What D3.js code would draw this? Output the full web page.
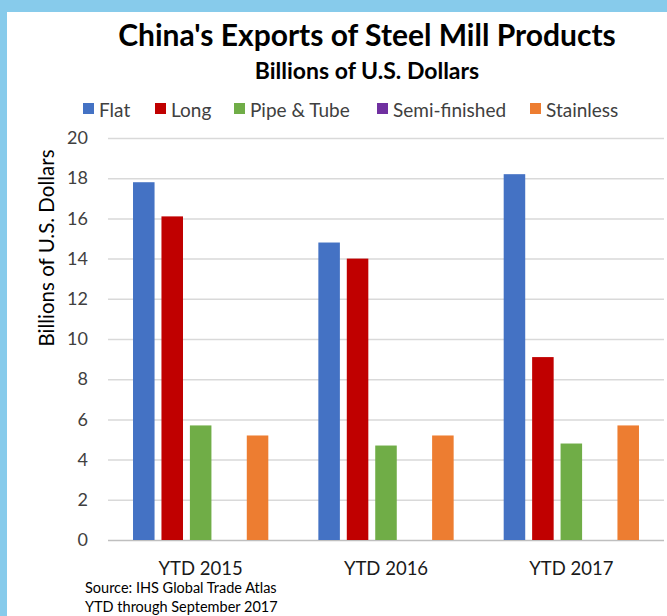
<!DOCTYPE html>
<html>
<head>
<meta charset="utf-8">
<script src="https://cdn.jsdelivr.net/npm/d3@7"></script>
<style>
  html, body { margin: 0; padding: 0; background: #ffffff; }
  svg { display: block; }
  text { font-family: Lato, "Open Sans", sans-serif; }
</style>
</head>
<body>
<script>
const categories = ["YTD 2015", "YTD 2016", "YTD 2017"];
const seriesNames = ["Flat", "Long", "Pipe & Tube", "Semi-finished", "Stainless"];
const flatValues = [17.8, 14.8, 18.2];
const longValues = [16.1, 14.0, 9.1];
const pipeValues = [5.7, 4.7, 4.8];
const semiValues = [0, 0, 0];
const stainlessValues = [5.2, 5.2, 5.7];
const seriesColors = ["#4472C4", "#C00000", "#70AD47", "#7030A0", "#ED7D31"];
const yTicks = [0, 2, 4, 6, 8, 10, 12, 14, 16, 18, 20];

const seriesValues = [flatValues, longValues, pipeValues, semiValues, stainlessValues];

const W = 667, H = 616;
const svg = d3.select("body").append("svg").attr("width", W).attr("height", H);

// frame
svg.append("rect").attr("x", 0).attr("y", 0).attr("width", W).attr("height", H).attr("fill", "#87cbeb");
svg.append("rect").attr("x", 7).attr("y", 12).attr("width", W - 7).attr("height", H - 12).attr("fill", "#ffffff");

const plot = { left: 108, right: 664, top: 138, bottom: 540 };

const x0 = d3.scaleBand().domain(categories).range([plot.left, plot.right])
  .paddingInner(0.27).paddingOuter(0.135);
const x1 = d3.scaleBand().domain(seriesNames).range([0, x0.bandwidth()])
  .paddingInner(0.243).paddingOuter(0);
const y = d3.scaleLinear().domain([0, 20]).range([plot.bottom, plot.top]);

// gridlines
const yAxis = d3.axisLeft(y).tickValues(yTicks).tickSize(-(plot.right - plot.left)).tickPadding(20).tickFormat(d3.format("d"));
const gy = svg.append("g").attr("transform", `translate(${plot.left},0)`).call(yAxis);
gy.select(".domain").remove();
gy.selectAll(".tick line").attr("stroke", d => d === 0 ? "#bfbfbf" : "#d9d9d9").attr("stroke-width", 1.5);
gy.selectAll(".tick text").attr("font-size", 18).attr("fill", "#404040").attr("font-family", "Lato, sans-serif");

// bars
const groups = svg.append("g").selectAll("g").data(categories).join("g")
  .attr("transform", d => `translate(${x0(d)},0)`);
groups.selectAll("rect")
  .data((c, ci) => seriesNames.map((s, si) => ({ s, si, v: seriesValues[si][ci] })))
  .join("rect")
  .attr("x", d => x1(d.s))
  .attr("width", x1.bandwidth())
  .attr("y", d => y(d.v))
  .attr("height", d => y(0) - y(d.v))
  .attr("fill", d => seriesColors[d.si]);

// x axis labels
const xAxis = d3.axisBottom(x0).tickSize(0).tickPadding(22);
const gx = svg.append("g").attr("transform", `translate(0,${plot.bottom})`).call(xAxis);
gx.select(".domain").remove();
gx.selectAll(".tick text").attr("font-size", 18.5).attr("fill", "#1a1a1a").attr("font-family", "Lato, sans-serif");

// titles
svg.append("text").attr("x", 367).attr("y", 46).attr("text-anchor", "middle")
  .attr("font-size", 30).attr("font-weight", "bold").attr("fill", "#000")
  .text("China's Exports of Steel Mill Products");
svg.append("text").attr("x", 367).attr("y", 79).attr("text-anchor", "middle")
  .attr("font-size", 23).attr("font-weight", "bold").attr("fill", "#000")
  .text("Billions of U.S. Dollars");

// y axis title
svg.append("text").attr("transform", "translate(54,248) rotate(-90)").attr("text-anchor", "middle")
  .attr("font-size", 20.5).attr("fill", "#000")
  .text("Billions of U.S. Dollars");

// legend
const legendX = [83, 155, 234, 377, 530];
const leg = svg.append("g").selectAll("g").data(seriesNames).join("g")
  .attr("transform", (d, i) => `translate(${legendX[i]},103)`);
leg.append("rect").attr("width", 11).attr("height", 11).attr("fill", (d, i) => seriesColors[i]);
leg.append("text").attr("x", 16).attr("y", 13.5).attr("font-size", 19).attr("fill", "#404040").text(d => d);

// source
svg.append("text").attr("x", 85).attr("y", 593).attr("font-size", 14.5).attr("fill", "#000")
  .text("Source: IHS Global Trade Atlas");
svg.append("text").attr("x", 85).attr("y", 611.5).attr("font-size", 14.5).attr("fill", "#000")
  .text("YTD through September 2017");
</script>
</body>
</html>
